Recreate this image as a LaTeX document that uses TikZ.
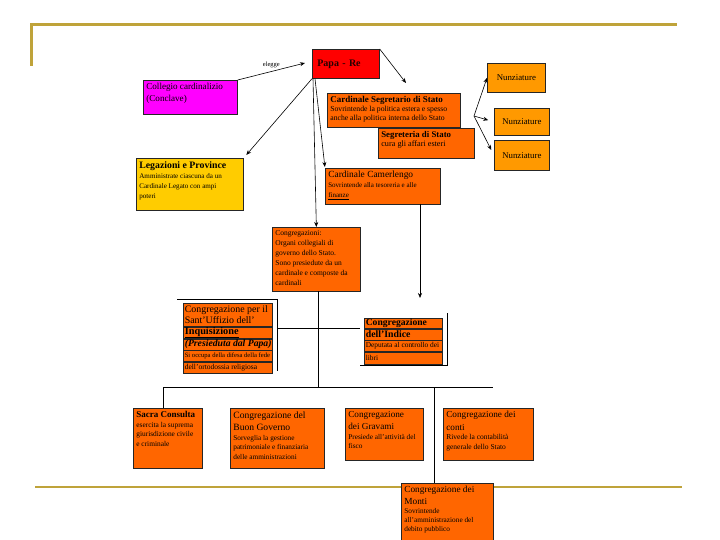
\documentclass[tikz,border=0pt]{standalone}
\usepackage{fontspec}
\setmainfont{Liberation Serif}
\usetikzlibrary{arrows.meta,calc}
\definecolor{org}{HTML}{FF6600}
\definecolor{lorg}{HTML}{FF9900}
\definecolor{ylw}{HTML}{FFCC00}
\definecolor{mag}{HTML}{FF00FF}
\definecolor{rd}{HTML}{FF0000}
\definecolor{gold}{HTML}{BFA33A}
\newcommand{\bxt}[3]{\parbox[t][#2][t]{#1}{\raggedright #3}}
\begin{document}
\begin{tikzpicture}[x=1pt,y=-1pt,
  box/.style={draw=black!85, line width=0.7pt, anchor=north west, inner sep=3pt, align=left},
  cell/.style={draw=black!85, line width=0.6pt, fill=org, anchor=north west, inner xsep=1.5pt, inner ysep=0pt,
     minimum width=89pt},
  icell/.style={cell, minimum width=78pt},
  arr/.style={line width=0.6pt, -{Stealth[length=5pt,width=4pt]}},
  ln/.style={line width=0.7pt},
  goldline/.style={gold, line width=3pt}]
\useasboundingbox[fill=white] (0,0) rectangle (720,540);
% decorative lines
\draw[goldline] (31,66) -- (31,25) -- (677,25);
\draw[gold, line width=2.5pt] (35,487) -- (682,487);

% top level
\node[box, fill=rd, minimum width=67pt, minimum height=29pt, text width=57pt] (papa) at (312,49) {\fontsize{10}{11}\selectfont\bfseries\color{black!85!red} Papa - Re};
\node[box, fill=mag] (coll) at (143,80) {\bxt{88pt}{28pt}{\fontsize{9.1}{12}\selectfont Collegio cardinalizio\\(Conclave)}};
\node[box, fill=org] (segr) at (327,93) {\bxt{127pt}{28pt}{\fontsize{9}{10.5}\selectfont\bfseries Cardinale Segretario di Stato\\\fontsize{7.7}{9.2}\selectfont\mdseries Sovrintende la politica estera e spesso\\anche alla politica interna dello Stato}};
\node[box, fill=org] (segria) at (378,128) {\bxt{90pt}{24pt}{\fontsize{8.8}{10.5}\selectfont\bfseries Segreteria di Stato\\\fontsize{8.2}{9}\selectfont\mdseries cura gli affari esteri}};
\node[box, fill=lorg, minimum width=58pt, minimum height=29pt, align=center] (nz1) at (487,63) {\fontsize{8.8}{9}\selectfont Nunziature};
\node[box, fill=lorg, minimum width=55pt, minimum height=27pt, align=center] (nz2) at (494,108) {\fontsize{8.8}{9}\selectfont Nunziature};
\node[box, fill=lorg, minimum width=55pt, minimum height=30pt, align=center] (nz3) at (494,140) {\fontsize{8.8}{9}\selectfont Nunziature};
\node[box, fill=ylw] (leg) at (136,158) {\bxt{101pt}{46pt}{\fontsize{9.8}{11}\selectfont\bfseries Legazioni e Province\\\fontsize{7.1}{10}\selectfont\mdseries Amministrate ciascuna da un\\Cardinale Legato con ampi\\poteri}};
\node[box, fill=org] (cam) at (325,168) {\bxt{109pt}{30pt}{\fontsize{9.4}{11}\selectfont Cardinale Camerlengo\\\fontsize{7}{10}\selectfont Sovrintende alla tesoreria e alle\\\underline{finanze}}};
\node[box, fill=org] (congr) at (272,227) {\bxt{82pt}{58pt}{\fontsize{7.5}{10}\selectfont Congregazioni:\\Organi collegiali di\\governo dello Stato.\\Sono presiedute da un\\cardinale e composte da\\cardinali}};

% Sant'Uffizio table
\node[cell, minimum height=23pt] (uf1) at (183,303) {\parbox{86pt}{\raggedright\fontsize{9.9}{11}\selectfont Congregazione per il\\Sant'Uffizio dell'}};
\node[cell, minimum height=11pt] (uf2) at (uf1.south west) {\makebox[86pt][l]{\fontsize{10.3}{10}\selectfont\bfseries\underline{Inquisizione}}};
\node[cell, minimum height=11pt] (uf3) at (uf2.south west) {\makebox[86pt][l]{\fontsize{9.7}{10}\selectfont\bfseries\itshape (Presieduta dal Papa)}};
\node[cell, minimum height=11pt] (uf4) at (uf3.south west) {\makebox[86pt][l]{\fontsize{6.6}{8}\selectfont Si occupa della difesa della fede}};
\node[cell, minimum height=11pt] (uf5) at (uf4.south west) {\makebox[86pt][l]{\fontsize{7.5}{8}\selectfont dell'ortodossia religiosa}};
\draw[ln] (177,299) -- (277,299) -- (277,371);

% Indice table
\node[icell, minimum height=10pt] (ix1) at (364,318) {\makebox[75pt][l]{\fontsize{9.6}{10}\selectfont\bfseries Congregazione}};
\node[icell, minimum height=11pt] (ix2) at (ix1.south west) {\makebox[75pt][l]{\fontsize{9.8}{10}\selectfont\bfseries dell'Indice}};
\node[icell, minimum height=11pt] (ix3) at (ix2.south west) {\makebox[75pt][l]{\fontsize{7.4}{8}\selectfont Deputata al controllo dei}};
\node[icell, minimum height=12pt] (ix4) at (ix3.south west) {\makebox[75pt][l]{\fontsize{7.4}{8}\selectfont libri}};
\draw[ln] (447,313) -- (447,365) -- (360,365);

% bottom row
\node[box, fill=org] (sacra) at (133,408) {\bxt{63pt}{54pt}{\fontsize{9}{11}\selectfont\bfseries Sacra Consulta\\\fontsize{7.4}{9.5}\selectfont\mdseries esercita la suprema\\giurisdizione civile\\e criminale}};
\node[box, fill=org] (buon) at (230,408) {\bxt{88pt}{54pt}{\fontsize{9.6}{12.5}\selectfont Congregazione del\\Buon Governo\\\fontsize{7.3}{9.5}\selectfont Sorveglia la gestione\\patrimoniale e finanziaria\\delle amministrazioni}};
\node[box, fill=org] (grav) at (345,408) {\bxt{72pt}{46pt}{\fontsize{9.2}{12.5}\selectfont Congregazione\\dei Gravami\\\fontsize{7.3}{9.5}\selectfont Presiede all'attività del\\fisco}};
\node[box, fill=org] (conti) at (443,408) {\bxt{84pt}{46pt}{\fontsize{9.2}{12.5}\selectfont Congregazione dei\\conti\\\fontsize{7.5}{9.5}\selectfont Rivede la contabilità\\generale dello Stato}};
\node[box, fill=org] (monti) at (401,483) {\bxt{86pt}{54pt}{\fontsize{9.3}{11.5}\selectfont Congregazione dei\\Monti\\\fontsize{7.3}{9}\selectfont Sovrintende\\all'amministrazione del\\debito pubblico}};

% connectors
\coordinate (elg) at (305,63);
\draw[arr] (coll.north east) -- (elg) node[pos=0.5, above=0pt, font=\fontsize{6.5}{7}\selectfont] {elegge};
\coordinate (segtop) at (406,83);
\draw[arr] (papa.north east) -- (segtop);
\draw[arr, shorten >=4pt] (papa.south west) -- (leg.north east);
\draw[arr, shorten >=1pt] ([xshift=3pt]papa.south west) -- (cam.north west);
\draw[arr] ([xshift=1pt]papa.south west) -- (congr.north);
\coordinate (fork) at (474,116);
\draw[arr] (fork) -- (nz1.west);
\draw[arr, shorten >=6pt] (fork) -- (nz2.west);
\draw[arr, shorten >=6pt] (fork) -- (nz3.west);
\coordinate (camb) at (420,204);
\coordinate (ixtop) at (420,298);
\draw[arr] (camb) -- (ixtop);
% tree
\coordinate (tc) at (318,291);
\coordinate (tj) at (318,387);
\coordinate (hl) at (163,387);
\coordinate (hr) at (493,387);
\coordinate (mj) at (434,387);
\draw[ln] (tc) -- (tj);
\draw[ln] (hl) -- (hr);
\draw[ln] (hl) -- (hl |- sacra.north);
\draw[ln] (mj) -- (mj |- monti.north);
\coordinate (fr1) at (277,328);
\coordinate (fr2) at (360,328);
\draw[ln] (fr1) -- (fr2);
\end{tikzpicture}
\end{document}
